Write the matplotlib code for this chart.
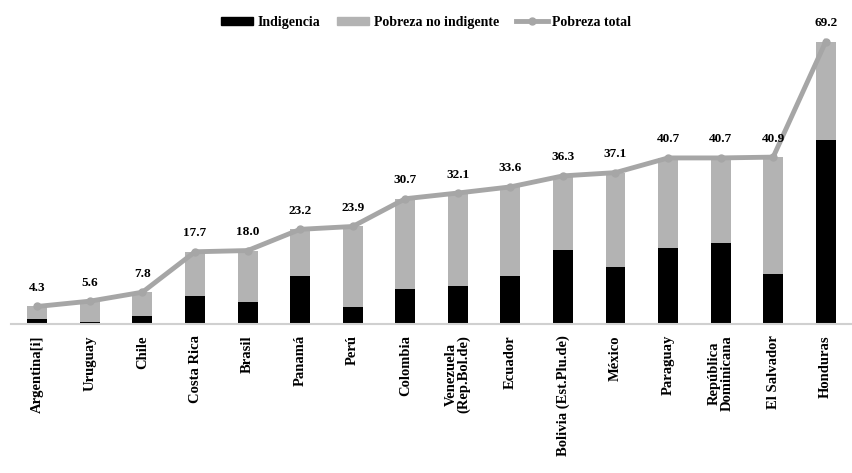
import matplotlib
matplotlib.use("Agg")
import matplotlib.pyplot as plt
from matplotlib.lines import Line2D
from matplotlib.patches import Patch

plt.rcParams['font.family'] = ['Liberation Serif', 'DejaVu Serif']
plt.rcParams['font.weight'] = 'bold'

# data
paises = ['Argentina[i]', 'Uruguay', 'Chile', 'Costa Rica', 'Brasil', 'Panamá',
          'Perú', 'Colombia', 'Venezuela\n(Rep.Bol.de)', 'Ecuador',
          'Bolivia (Est.Plu.de)', 'México', 'Paraguay', 'República\nDominicana',
          'El Salvador', 'Honduras']
pobreza_total = [4.3, 5.6, 7.8, 17.7, 18.0, 23.2, 23.9, 30.7, 32.1, 33.6,
                 36.3, 37.1, 40.7, 40.7, 40.9, 69.2]
indigencia = [1.2, 0.6, 2.0, 6.9, 5.5, 11.8, 4.1, 8.7, 9.4, 11.8,
              18.1, 13.9, 18.7, 19.8, 12.3, 45.1]
no_indigente = [t - i for t, i in zip(pobreza_total, indigencia)]

GRAY_BAR = '#b3b3b3'
GRAY_LINE = '#a6a6a6'

fig = plt.figure(figsize=(8.52, 4.73), dpi=100)
ax = fig.add_axes([0.013, 0.315, 0.987, 0.647])

x = list(range(len(paises)))
ax.bar(x, indigencia, width=0.38, color='black', zorder=2)
ax.bar(x, no_indigente, width=0.38, bottom=indigencia, color=GRAY_BAR, zorder=2)
ax.plot(x, pobreza_total, color=GRAY_LINE, lw=3.5, marker='o', ms=5,
        markerfacecolor=GRAY_LINE, markeredgecolor=GRAY_LINE, zorder=3)

for xi, v in zip(x, pobreza_total):
    ax.annotate(f'{v:.1f}', (xi, v), xytext=(0, 9), textcoords='offset points',
                ha='center', va='bottom', fontsize=9.5, fontweight='bold')

ax.set_xlim(-0.5, 15.5)
ax.set_ylim(0, 75)
ax.set_yticks([])
for s in ['top', 'right', 'left']:
    ax.spines[s].set_visible(False)
ax.spines['bottom'].set_color('#d0d0d0')
ax.spines['bottom'].set_linewidth(1.5)
ax.set_xticks(x)
ax.set_xticklabels(paises, rotation=90, fontsize=10.5, fontweight='bold',
                   ha='center', va='top', linespacing=0.95)
ax.tick_params(axis='x', length=0, pad=8)

handles = [Patch(color='black'), Patch(color=GRAY_BAR),
           Line2D([0], [0], color=GRAY_LINE, lw=3.5, marker='o', ms=5)]
fig.legend(handles, ['Indigencia', 'Pobreza no indigente', 'Pobreza total'],
           loc='center', bbox_to_anchor=(0.5, 0.953), ncol=3, frameon=False,
           fontsize=10, handlelength=2.3, handleheight=0.5, columnspacing=1.2,
           handletextpad=0.35)

fig.savefig('out.png', dpi=100)
